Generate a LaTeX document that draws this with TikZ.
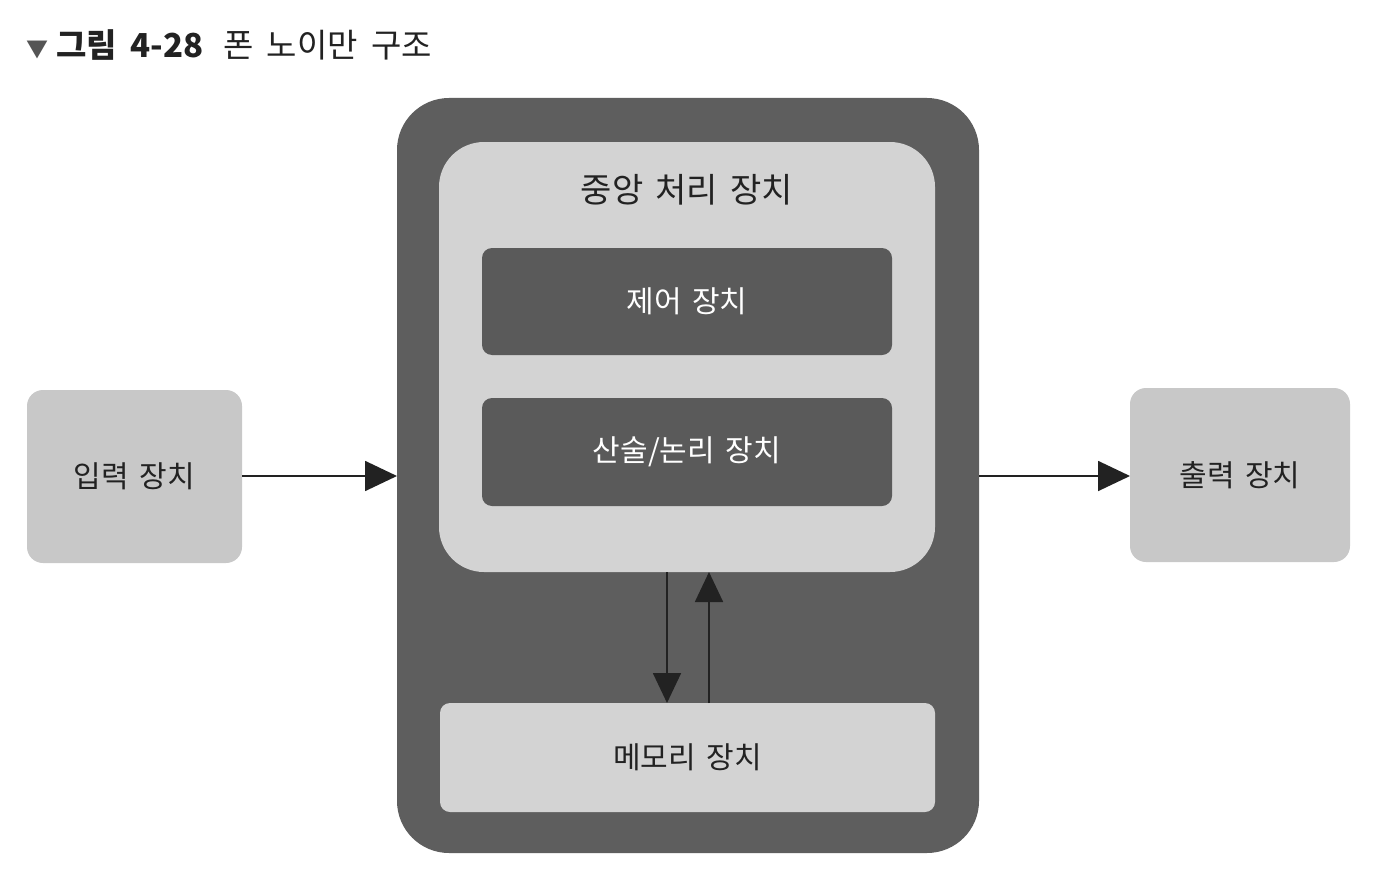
\documentclass[tikz,border=0pt]{standalone}
\usepackage{fontspec}
\usetikzlibrary{arrows.meta}
\setmainfont{Noto Sans CJK KR}[WordSpace=1.6]
\newfontfamily\titlefont{Noto Sans CJK KR}[WordSpace=1.8]
\definecolor{darkbox}{HTML}{5E5E5E}
\definecolor{innerdark}{HTML}{5A5A5A}
\definecolor{lightbox}{HTML}{D3D3D3}
\definecolor{iobox}{HTML}{C8C8C8}
\definecolor{ink}{HTML}{222222}
\definecolor{tri}{HTML}{555555}
\begin{document}
\begin{tikzpicture}[x=1pt,y=-1pt,
  every node/.style={inner sep=0pt, outer sep=0pt},
  darkrect/.style={fill=innerdark, rounded corners=10pt, text=white,
    font=\fontsize{30}{36}\selectfont},
  lightrect/.style={fill=lightbox, rounded corners=10pt, text=ink,
    font=\fontsize{30}{36}\selectfont},
  iorect/.style={fill=iobox, rounded corners=16pt, text=ink,
    font=\fontsize{30}{36}\selectfont},
  conn/.style={draw=ink, line width=1.8pt,
    -{Triangle[length=32pt,width=30pt]}},
  vconn/.style={draw=ink, line width=1.8pt,
    -{Triangle[length=30pt,width=28pt]}}]
\fill[white] (0,0) rectangle (1378,880);
\useasboundingbox (0,0) rectangle (1378,880);

% title
\node[anchor=base west, text=ink, font=\titlefont\fontsize{33}{38}\selectfont] (title) at (26,58)
  {{\color{tri}\fontsize{22}{22}\selectfont ▼}\hspace{8pt}{\bfseries 그림 4-28}\hspace{20pt}폰 노이만 구조};

% outer frame and CPU
\node[fill=darkbox, rounded corners=52pt, minimum width=582pt, minimum height=755pt] (outer) at (688,475.5) {};
\node[fill=lightbox, rounded corners=45pt, minimum width=496pt, minimum height=430pt] (cpu) at (687,357) {};
\node[text=ink, font=\fontsize{34}{40}\selectfont] (cpulbl) at (687,190) {중앙 처리 장치};

\node[darkrect, minimum width=410pt, minimum height=107pt] (ctrl) at (687,301.5) {제어 장치};
\node[darkrect, minimum width=410pt, minimum height=108pt] (alu) at (687,452) {산술/논리 장치};
\node[lightrect, minimum width=495pt, minimum height=109pt] (mem) at (687.5,757.5) {메모리 장치};

% input / output
\node[iorect, minimum width=215pt, minimum height=173pt] (in) at (134.5,476.5) {입력 장치};
\node[iorect, minimum width=220pt, minimum height=174pt] (out) at (1240,475) {출력 장치};

% connectors
\coordinate (hy) at (0,476);
\coordinate (dx) at (667,0);
\coordinate (ux) at (709,0);
\draw[conn] (in.east |- hy) -- (outer.west |- hy);
\draw[conn] (outer.east |- hy) -- (out.west |- hy);
\draw[vconn] (dx |- cpu.south) -- (dx |- mem.north);
\draw[vconn] (ux |- mem.north) -- (ux |- cpu.south);
\end{tikzpicture}
\end{document}
